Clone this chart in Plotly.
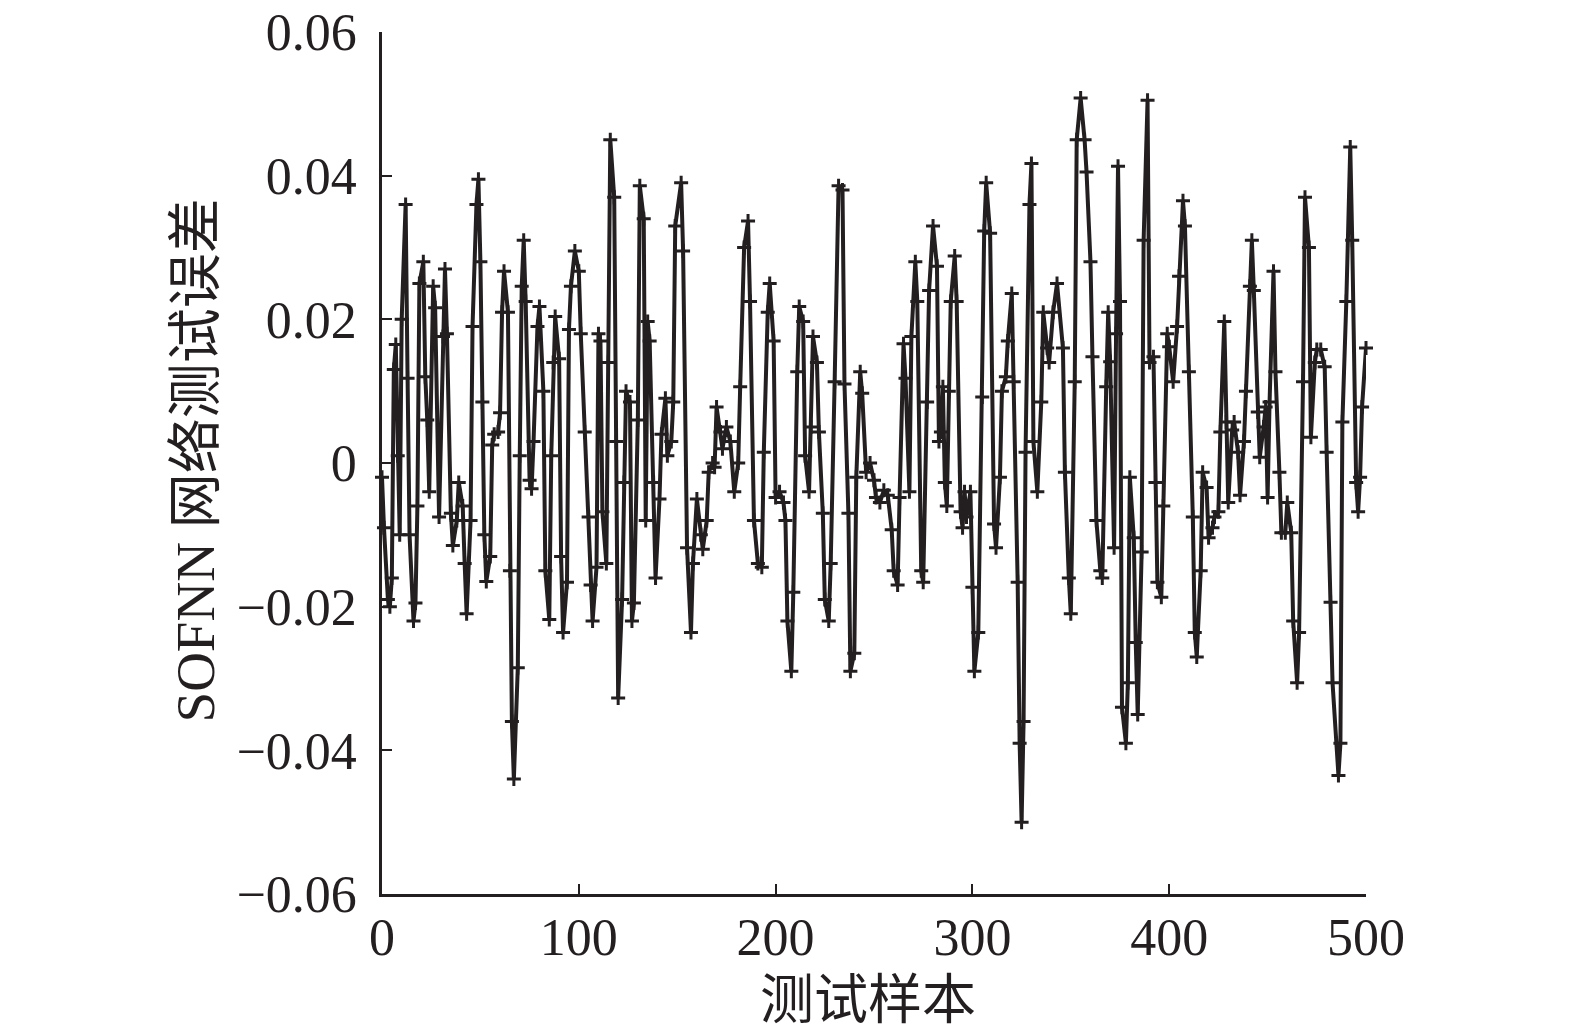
import plotly.graph_objects as go

# Test sample indices and SOFNN test errors
sample_idx = [
    0, 1, 3, 4, 5, 6, 7, 8, 9, 10, 12, 13, 14, 16, 17, 18, 19, 21, 22, 23, 24, 26, 27, 29, 31, 32, 33, 35, 36, 38,
    39, 41, 42, 43, 45, 46, 48, 49, 50, 51, 52, 53, 55, 56, 57, 59, 60, 61, 62, 64, 65, 66, 67, 69, 70, 71, 72, 73,
    75, 76, 77, 79, 80, 82, 83, 85, 86, 87, 88, 90, 91, 92, 94, 95, 96, 98, 100, 101, 103, 105, 106, 107, 109, 110,
    111, 112, 114, 115, 116, 118, 119, 120, 122, 123, 124, 126, 127, 128, 130, 131, 133, 134, 135, 136, 138, 139,
    141, 142, 144, 145, 147, 148, 149, 152, 153, 155, 157, 158, 160, 162, 163, 165, 166, 168, 169, 170, 172, 173,
    175, 177, 179, 181, 182, 184, 186, 187, 189, 191, 193, 194, 196, 197, 199, 200, 202, 204, 205, 206, 208, 209,
    211, 212, 214, 215, 217, 218, 219, 221, 222, 224, 225, 227, 228, 230, 232, 234, 235, 237, 238, 240, 241, 243,
    244, 246, 248, 250, 251, 253, 255, 257, 259, 260, 262, 263, 265, 266, 268, 269, 271, 272, 274, 275, 277, 278,
    280, 282, 283, 284, 285, 286, 287, 288, 289, 291, 292, 294, 295, 296, 297, 299, 300, 301, 303, 305, 306, 307,
    309, 311, 312, 314, 315, 317, 318, 320, 321, 323, 324, 325, 326, 327, 329, 330, 331, 333, 335, 336, 338, 339,
    341, 343, 346, 347, 349, 350, 352, 353, 355, 357, 358, 360, 361, 363, 365, 366, 368, 369, 370, 372, 373, 374,
    375, 376, 378, 379, 380, 382, 383, 384, 386, 387, 389, 390, 392, 393, 394, 396, 397, 399, 400, 402, 404, 405,
    407, 408, 410, 412, 413, 414, 416, 417, 419, 420, 422, 423, 425, 426, 428, 429, 430, 432, 433, 435, 436, 438,
    439, 441, 442, 443, 445, 446, 448, 449, 450, 451, 453, 454, 456, 457, 459, 460, 462, 463, 465, 466, 468, 469,
    471, 472, 474, 475, 477, 479, 480, 482, 483, 486, 487, 488, 490, 492, 493, 495, 496, 497, 498, 500,
]
test_error = [
    -0.002, -0.009, -0.019, -0.020, -0.016, 0.013, 0.0165, 0.001, -0.010, 0.020, 0.036, 0.0118, -0.010, -0.022,
    -0.0195, -0.006, 0.025, 0.028, 0.012, 0.006, -0.004, 0.0246, 0.0216, -0.0075, 0.0176, 0.027, 0.018, -0.007,
    -0.0115, -0.008, -0.0027, -0.006, -0.014, -0.021, -0.008, 0.019, 0.036, 0.0395, 0.028, 0.0085, -0.010, -0.0165,
    -0.013, 0.0025, 0.004, 0.0043, 0.007, 0.021, 0.0267, 0.021, -0.015, -0.036, -0.044, -0.0285, 0.001, 0.0246,
    0.031, 0.0225, -0.0024, -0.0036, 0.003, 0.019, 0.0218, 0.010, -0.015, -0.0218, 0.001, 0.014, 0.0204, 0.0145,
    -0.013, -0.0236, -0.0166, 0.0186, 0.0246, 0.0295, 0.0267, 0.018, 0.0043, -0.0075, -0.017, -0.022, -0.0145,
    0.018, 0.017, -0.0068, -0.014, 0.014, 0.045, 0.037, 0.003, -0.0327, -0.019, -0.0027, 0.010, 0.0085, -0.022,
    -0.0195, 0.006, 0.0386, 0.034, -0.008, 0.0197, 0.017, -0.0027, -0.016, -0.005, 0.004, 0.009, 0.001, 0.003,
    0.0085, 0.033, 0.039, 0.0295, -0.0118, -0.0236, -0.014, -0.005, -0.010, -0.012, -0.008, -0.0013, 0.0, -0.0006,
    0.0078, 0.0043, 0.002, 0.005, 0.003, -0.004, 0.0, 0.0106, 0.030, 0.0337, 0.0225, -0.008, -0.014, -0.0145,
    0.0015, 0.021, 0.025, 0.017, -0.0048, -0.004, -0.0055, -0.008, -0.022, -0.029, -0.018, 0.0127, 0.0218, 0.0197,
    0.001, -0.004, 0.005, 0.0176, 0.014, 0.0043, -0.007, -0.019, -0.022, -0.014, 0.0113, 0.0386, 0.038, 0.011,
    -0.007, -0.029, -0.0265, -0.002, 0.0127, 0.0097, -0.0013, 0.0, -0.0024, -0.0048, -0.0055, -0.0038, -0.0045,
    -0.0093, -0.015, -0.017, -0.0048, 0.0166, 0.0118, -0.004, 0.0176, 0.028, 0.0225, -0.015, -0.0166, 0.0085,
    0.024, 0.033, 0.0274, 0.003, 0.0043, 0.0106, -0.0027, -0.006, 0.010, 0.0225, 0.0288, 0.0225, -0.0068, -0.009,
    -0.004, -0.0075, -0.004, -0.0173, -0.029, -0.0236, 0.0092, 0.0323, 0.039, 0.032, -0.0085, -0.0118, -0.002,
    0.010, 0.012, 0.017, 0.0236, 0.0113, -0.0166, -0.039, -0.050, -0.036, 0.0015, 0.036, 0.0417, 0.003, -0.004,
    0.0085, 0.021, 0.016, 0.014, 0.021, 0.025, 0.016, -0.0013, -0.016, -0.021, 0.0113, 0.045, 0.0508, 0.045,
    0.0405, 0.028, 0.0148, -0.008, -0.015, -0.016, 0.0106, 0.021, 0.0141, -0.0118, 0.018, 0.0413, 0.0225, -0.034,
    -0.039, -0.0306, -0.002, -0.0104, -0.025, -0.035, -0.0124, 0.031, 0.0505, 0.014, 0.0148, -0.0027, -0.0166,
    -0.0187, -0.006, 0.018, 0.0162, 0.0113, 0.019, 0.026, 0.0365, 0.033, 0.0127, -0.0075, -0.0236, -0.027, -0.015,
    -0.0013, -0.0034, -0.0104, -0.009, -0.0075, -0.0068, 0.0043, 0.0197, 0.0057, -0.0055, 0.0046, 0.0057, 0.0015,
    -0.0045, 0.003, 0.010, 0.0246, 0.031, 0.024, 0.0071, 0.0008, 0.005, 0.0078, -0.0048, 0.0085, 0.0267, 0.0127,
    -0.0013, -0.0097, -0.0097, -0.0055, -0.0097, -0.022, -0.0306, -0.0236, 0.0113, 0.037, 0.030, 0.0036, 0.014,
    0.0158, 0.0158, 0.0134, 0.0015, -0.0194, -0.0306, -0.0435, -0.039, 0.0057, 0.0225, 0.044, 0.031, -0.0027,
    -0.0068, -0.002, 0.0078, 0.016,
]

x_ticks = [0, 100, 200, 300, 400, 500]
y_ticks = [-0.06, -0.04, -0.02, 0, 0.02, 0.04, 0.06]
y_tick_text = ["\u22120.06", "\u22120.04", "\u22120.02", "0", "0.02", "0.04", "0.06"]

x_title = "测试样本"
y_title = "SOFNN 网络测试误差"

serif = "Liberation Serif, Times New Roman, Noto Sans CJK SC, serif"
ink = "#231f20"

fig = go.Figure()
fig.add_trace(go.Scatter(
    x=sample_idx, y=test_error, mode="lines+markers",
    line=dict(color=ink, width=4),
    marker=dict(symbol="cross-thin", size=10, line=dict(color=ink, width=3)),
    showlegend=False, cliponaxis=False,
))

axis_common = dict(
    showline=True, linecolor=ink, linewidth=2.5, mirror=False,
    ticks="inside", ticklen=10, tickwidth=2, tickcolor=ink,
    showgrid=False, zeroline=False, automargin=False,
    ticklabeloverflow="allow",
    tickfont=dict(family=serif, size=52, color=ink),
)

fig.update_layout(
    width=1575, height=1035,
    margin=dict(l=374, r=217, t=24, b=149),
    plot_bgcolor="white", paper_bgcolor="white",
    xaxis=dict(range=[0, 500], tickvals=x_ticks, ticktext=[str(v) for v in x_ticks],
               ticklabelstandoff=-4, **axis_common),
    yaxis=dict(range=[-0.06, 0.06], tickvals=y_ticks, ticktext=y_tick_text, ticklabelstandoff=12, **axis_common),
    annotations=[
        dict(text=x_title, xref="paper", yref="paper", x=0.494, y=-0.124, showarrow=False,
             font=dict(family=serif, size=54, color=ink), xanchor="center", yanchor="middle"),
        dict(text=y_title, xref="paper", yref="paper", x=-0.19, y=0.503, showarrow=False, textangle=-90,
             font=dict(family=serif, size=55, color=ink), xanchor="center", yanchor="middle"),
    ],
)

fig.write_html("out.html")
